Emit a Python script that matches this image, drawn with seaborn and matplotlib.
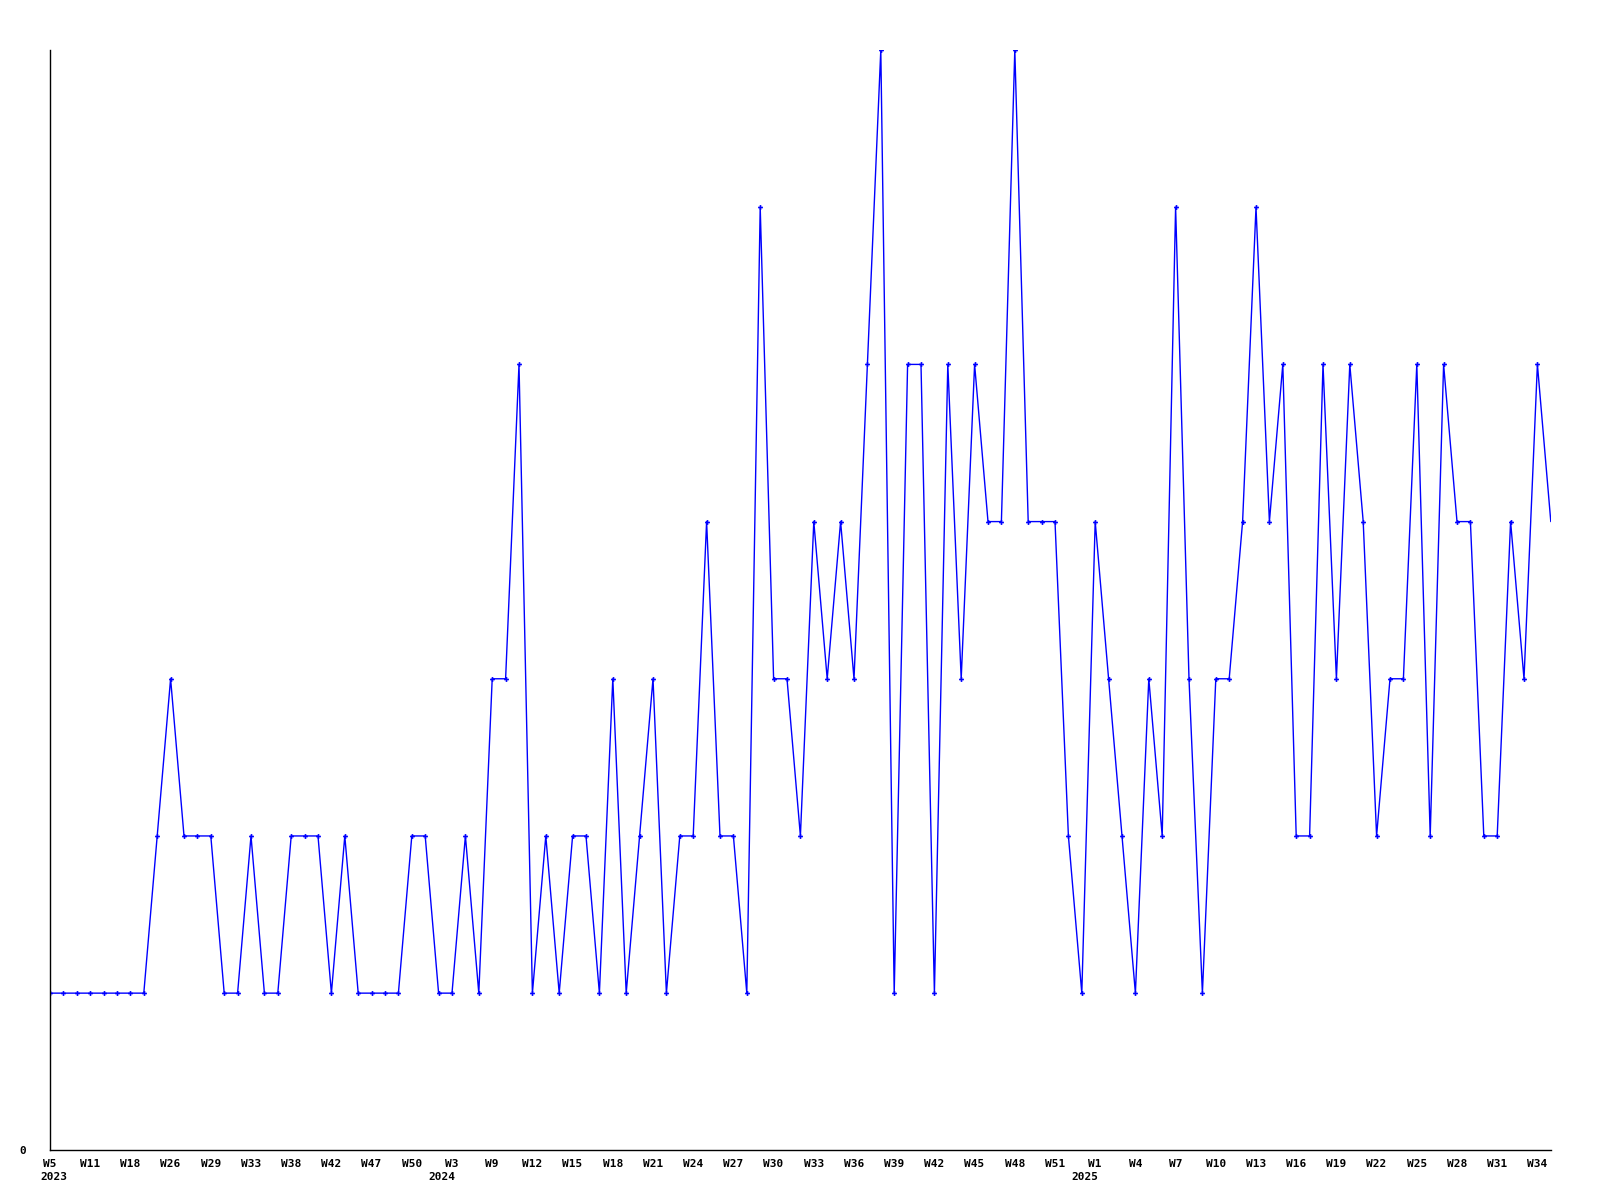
import numpy as np
import pandas as pd
import matplotlib
matplotlib.use('Agg')
import matplotlib.pyplot as plt
import matplotlib.transforms as mtransforms
import seaborn as sns

# weekly counts, one value per week shown (113 weeks)
counts = [1, 1, 1, 1, 1, 1, 1, 1, 2, 3,
          2, 2, 2, 1, 1, 2, 1, 1, 2, 2,
          2, 1, 2, 1, 1, 1, 1, 2, 2, 1,
          1, 2, 1, 3, 3, 5, 1, 2, 1, 2,
          2, 1, 3, 1, 2, 3, 1, 2, 2, 4,
          2, 2, 1, 6, 3, 3, 2, 4, 3, 4,
          3, 5, 7, 1, 5, 5, 1, 5, 3, 5,
          4, 4, 7, 4, 4, 4, 2, 1, 4, 3,
          2, 1, 3, 2, 6, 3, 1, 3, 3, 4,
          6, 4, 5, 2, 2, 5, 3, 5, 4, 2,
          3, 3, 5, 2, 5, 4, 4, 2, 2, 4,
          3, 5, 4]

# every third week gets a label
week_labels = ['W5', 'W11', 'W18', 'W26', 'W29', 'W33', 'W38', 'W42', 'W47', 'W50',
               'W3', 'W9', 'W12', 'W15', 'W18', 'W21', 'W24', 'W27', 'W30', 'W33',
               'W36', 'W39', 'W42', 'W45', 'W48', 'W51', 'W1', 'W4', 'W7', 'W10',
               'W13', 'W16', 'W19', 'W22', 'W25', 'W28', 'W31', 'W34']
label_step = 3

years = ['2023', '2024', '2025']
year_start = [0, 30, 78]   # index of the first week of each year

df = pd.DataFrame({'week': np.arange(len(counts)), 'count': counts})

sns.set_style('white')
plt.rcParams['font.family'] = ['DejaVu Sans Mono', 'DejaVu Sans']
plt.rcParams['font.weight'] = 'bold'
plt.rcParams['font.size'] = 8
plt.rcParams['text.color'] = 'black'
plt.rcParams['xtick.color'] = 'black'
plt.rcParams['ytick.color'] = 'black'

fig = plt.figure(figsize=(16, 12), dpi=100)
ax = fig.add_axes([0.03125, 0.0414, 0.9380, 0.9169])

sns.lineplot(data=df, x='week', y='count', ax=ax, color='#0000ff', linewidth=1.0,
             marker='P', markersize=3.5, markeredgewidth=0,
             markevery=list(range(len(counts) - 1)))

ax.set_xlim(0, len(counts) - 1)
ax.set_ylim(0, max(counts))

ticks = np.arange(len(week_labels)) * label_step
ax.set_xticks(ticks)
ax.set_xticklabels(week_labels, fontsize=8, fontweight='bold', color='black')
ax.set_yticks([0])
ax.set_yticklabels(['0'], fontsize=8, fontweight='bold', color='black')
ax.tick_params(axis='both', length=0)
ax.tick_params(axis='x', pad=6)
ax.tick_params(axis='y', pad=17)
ax.set_xlabel('')
ax.set_ylabel('')

for s in ['top', 'right']:
    ax.spines[s].set_visible(False)
for s in ['left', 'bottom']:
    ax.spines[s].set_color('black')
    ax.spines[s].set_linewidth(1.0)

# year labels under the week labels
trans = mtransforms.blended_transform_factory(ax.transData, ax.transAxes)
for i, (yr, pos) in enumerate(zip(years, year_start)):
    ha = 'left' if i == 0 else 'center'
    ax.text(pos - 0.75, -0.0245, yr, transform=trans, ha=ha, va='center',
            fontsize=8, fontweight='bold', color='black')

fig.savefig('out.png', dpi=100, facecolor='white')
